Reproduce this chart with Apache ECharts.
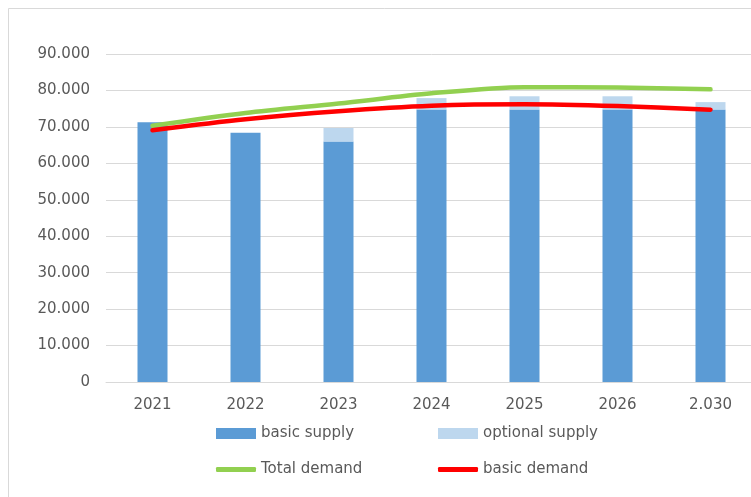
<!DOCTYPE html>
<html>
<head>
<meta charset="utf-8">
<script src="https://cdn.jsdelivr.net/npm/echarts@6/dist/echarts.min.js"></script>
<style>
html,body{margin:0;padding:0;background:#fff;overflow:hidden;width:751px;height:497px;}
#chart{width:760px;height:497px;}
</style>
</head>
<body>
<div id="chart"></div>
<script>
const categories = ['2021', '2022', '2023', '2024', '2025', '2026', '2.030'];
const basicSupply = [71300, 68400, 66000, 74800, 74800, 74800, 74800];
const optionalSupply = [0, 0, 3700, 3100, 3600, 3600, 2000];
const totalDemand = [70300, 73800, 76400, 79200, 80900, 80800, 80300];
const basicDemand = [69100, 72100, 74300, 75800, 76200, 75700, 74700];
const yTicks = { min: 0, max: 90000, interval: 10000 };

const FONT = 'DejaVu Sans';
const TXT = '#595959';
const chart = echarts.init(document.getElementById('chart'), null, { renderer: 'canvas' });

function fmt(v) {
  if (v === 0) return '0';
  const s = String(Math.round(v));
  return s.replace(/\B(?=(\d{3})+(?!\d))/g, '.');
}

const legendBase = {
  orient: 'horizontal',
  padding: 0,
  itemWidth: 40,
  selectedMode: false,
  textStyle: { color: TXT, fontFamily: FONT, fontSize: 15 }
};

chart.setOption({
  animation: false,
  backgroundColor: '#ffffff',
  graphic: [{
    type: 'rect',
    shape: { x: 8.5, y: 8.5, width: 800, height: 600 },
    style: { fill: 'none', stroke: '#d9d9d9', lineWidth: 1 },
    silent: true
  }],
  grid: { left: 106, width: 651, top: 54, height: 328, containLabel: false },
  legend: [
    Object.assign({}, legendBase, { left: 216, top: 426, itemHeight: 11, data: [{ name: 'basic supply', icon: 'rect' }] }),
    Object.assign({}, legendBase, { left: 438, top: 426, itemHeight: 11, data: [{ name: 'optional supply', icon: 'rect' }] }),
    Object.assign({}, legendBase, { left: 216, top: 462, itemHeight: 5, data: [{ name: 'Total demand', icon: 'roundRect' }] }),
    Object.assign({}, legendBase, { left: 438, top: 462, itemHeight: 5, data: [{ name: 'basic demand', icon: 'roundRect' }] })
  ],
  xAxis: {
    type: 'category',
    data: categories,
    axisLine: { lineStyle: { color: '#d9d9d9', width: 1 } },
    axisTick: { show: false },
    axisLabel: { color: TXT, fontFamily: FONT, fontSize: 15, margin: 16 }
  },
  yAxis: {
    type: 'value',
    min: yTicks.min, max: yTicks.max, interval: yTicks.interval,
    axisLine: { show: false },
    axisTick: { show: false },
    splitLine: { lineStyle: { color: '#d9d9d9', width: 1 } },
    axisLabel: { color: TXT, fontFamily: FONT, fontSize: 15, margin: 16, formatter: fmt }
  },
  series: [
    {
      name: 'basic supply', type: 'bar', stack: 'supply', data: basicSupply,
      barWidth: 30, itemStyle: { color: '#5B9BD5' }
    },
    {
      name: 'optional supply', type: 'bar', stack: 'supply', data: optionalSupply,
      barWidth: 30, itemStyle: { color: '#BDD7EE' }
    },
    {
      name: 'Total demand', type: 'line', data: totalDemand, smooth: 0.3,
      symbol: 'none', z: 5,
      lineStyle: { color: '#92D050', width: 4.5, cap: 'round' },
      itemStyle: { color: '#92D050' }
    },
    {
      name: 'basic demand', type: 'line', data: basicDemand, smooth: 0.3,
      symbol: 'none', z: 6,
      lineStyle: { color: '#FF0000', width: 4.5, cap: 'round' },
      itemStyle: { color: '#FF0000' }
    }
  ]
});
</script>
</body>
</html>
